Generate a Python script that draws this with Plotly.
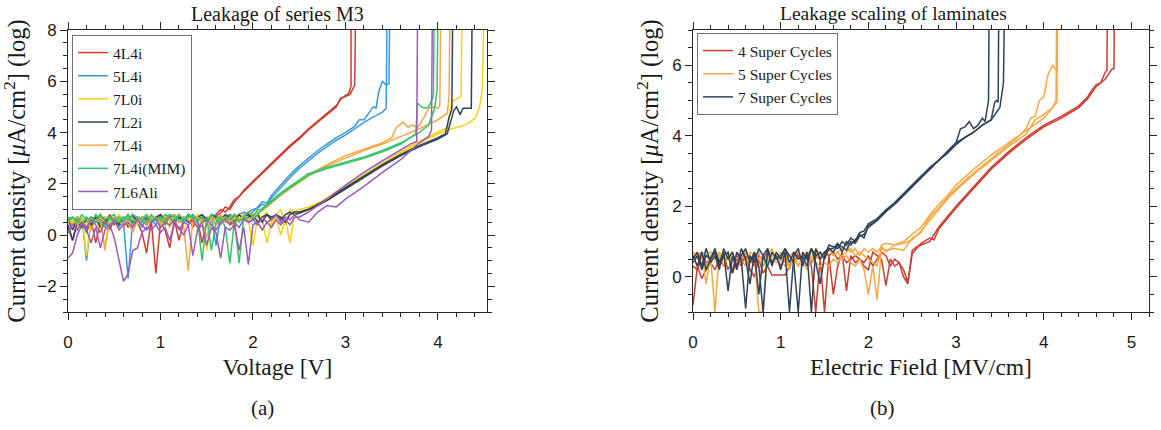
import plotly.graph_objects as go

# ---------------- data: panel (a) Voltage sweep ----------------
V_LOW = [0.0, 0.05, 0.1, 0.15, 0.2, 0.25, 0.3, 0.35, 0.4, 0.45, 0.5, 0.55, 0.6, 0.65, 0.7, 0.75,
         0.8, 0.85, 0.9, 0.95, 1.0, 1.05, 1.1, 1.15, 1.2, 1.25, 1.3, 1.35, 1.4, 1.45, 1.5, 1.55,
         1.6, 1.65, 1.7, 1.75, 1.8, 1.85, 1.9, 1.95, 2.0, 2.05, 2.1, 2.15, 2.2, 2.25, 2.3, 2.35,
         2.4, 2.45]

# 4L4i
A4L4i_noise_1 = [0.3, -0.2, 0.5, 0.6, 0.1, 0.6, -0.3, 0.5, 0.7, 0.2, 0.6, 0.4, 0.7, 0.3, 0.6, 0.5,
                 0.1, -0.7, 0.6, -1.5, 0.5, 0.2, -0.5, 0.6, -0.2, 0.5, 0.7, 0.3, 0.6, -0.3, 0.5, 0.7]
A4L4i_noise_2 = [0.6, 0.4, 0.7, 0.5, 0.7, 0.3, 0.6, 0.7, 0.5, 0.8, 0.4, 0.7, 0.6, 0.8, 0.5, 0.7,
                 0.6, 0.4, 0.7, 0.6, 0.8, 0.5, 0.7, 0.6, 0.7, 0.5, 0.8, 0.6, 0.7, 0.5, 0.7, 0.6]
A4L4i_tail_x_1 = [1.6, 1.65, 1.7, 1.75, 1.8, 1.85, 1.9, 2.0, 2.1, 2.2, 2.3, 2.4, 2.5, 2.6, 2.7, 2.8, 2.9, 2.95, 3.0, 3.03, 3.06, 3.06]
A4L4i_tail_y_1 = [0.8, 1.0, 0.9, 1.1, 1.4, 1.5, 1.75, 2.1, 2.45, 2.8, 3.15, 3.5, 3.8, 4.15, 4.45, 4.75, 5.05, 5.3, 5.45, 5.5, 5.8, 9]
A4L4i_tail_x_2 = [1.6, 1.65, 1.7, 1.75, 1.8, 1.85, 1.9, 2.0, 2.1, 2.2, 2.3, 2.4, 2.5, 2.6, 2.7, 2.8, 2.9, 2.95, 3.0, 3.05, 3.1, 3.11]
A4L4i_tail_y_2 = [0.75, 0.85, 1.1, 1.0, 1.3, 1.5, 1.7, 2.05, 2.4, 2.75, 3.1, 3.45, 3.75, 4.1, 4.4, 4.7, 5.0, 5.35, 5.4, 5.5, 5.85, 9]

# 5L4i
A5L4i_noise_1 = [0.7, 0.6, 0.5, 0.7, -1.0, 0.6, 0.7, 0.5, 0.3, 0.7, 0.6, 0.7, 0.5, -1.7, 0.6, 0.7,
                 0.5, 0.7, 0.6, 0.4, 0.7, 0.6, 0.8, 0.6, 0.7, 0.5, 0.7, 0.6, 0.7, 0.8, 0.6, 0.7,
                 -0.4, 0.7, 0.6, 0.8, 0.7, 0.6, 0.8, 0.9]
A5L4i_noise_2 = [0.6, 0.7, 0.4, 0.6, 0.2, 0.7, 0.5, 0.7, 0.6, 0.4, 0.7, 0.3, 0.6, 0.5, 0.7, 0.6,
                 0.3, 0.7, 0.5, 0.7, 0.6, 0.4, 0.7, 0.6, 0.5, 0.7, 0.6, 0.8, 0.5, 0.7, 0.6, 0.7,
                 0.8, 0.6, 0.7, 0.8, 0.7, 0.8, 0.9, 0.8]
A5L4i_tail_x_1 = [2.0, 2.05, 2.1, 2.15, 2.2, 2.3, 2.4, 2.5, 2.6, 2.7, 2.8, 2.9, 3.0, 3.1, 3.2, 3.3, 3.4, 3.44, 3.45]
A5L4i_tail_y_1 = [1.0, 1.05, 1.2, 1.15, 1.45, 1.85, 2.25, 2.6, 2.9, 3.2, 3.45, 3.7, 3.9, 4.15, 4.4, 4.6, 4.8, 4.95, 9]
A5L4i_tail_x_2 = [2.0, 2.05, 2.1, 2.15, 2.2, 2.3, 2.4, 2.5, 2.6, 2.7, 2.8, 2.9, 3.0, 3.1, 3.15, 3.2, 3.25, 3.3, 3.33, 3.36, 3.4, 3.44, 3.47, 3.48]
A5L4i_tail_y_2 = [0.9, 1.1, 1.3, 1.25, 1.55, 1.95, 2.35, 2.7, 3.0, 3.3, 3.55, 3.8, 4.0, 4.25, 4.5, 4.5, 4.75, 5.0, 4.95, 5.6, 6.0, 5.85, 5.9, 9]

# 7L0i
A7L0i_noise_1 = [0.5, 0.6, 0.3, 0.7, -0.8, 0.6, 0.5, 0.7, -0.5, 0.6, 0.7, 0.4, 0.7, 0.6, 0.3, 0.7,
                 0.6, 0.5, 0.7, 0.6, 0.4, 0.7, 0.6, 0.7, 0.5, 0.7, 0.6, 0.7, 0.3, 0.6, -0.6, 0.7,
                 0.6, 0.7, 0.5, 0.7, 0.6, 0.8, 0.7, 0.6, -0.4, 0.7, 0.6, -0.3, 0.5, 0.7, 0.0, 0.6,
                 -0.3, 0.8]
A7L0i_noise_2 = [0.7, 0.5, 0.7, 0.6, 0.5, 0.7, 0.6, 0.2, 0.7, 0.6, 0.5, 0.8, 0.6, 0.7, 0.6, 0.4,
                 0.7, 0.8, 0.6, 0.7, 0.6, 0.8, 0.5, 0.7, 0.8, 0.6, 0.7, 0.5, 0.8, 0.7, 0.6, 0.8,
                 0.7, 0.6, 0.8, 0.7, 0.2, 0.8, 0.7, 0.8, 0.6, 0.8, 0.7, 0.9, 0.3, 0.8, 1.0, 0.4,
                 1.0, 0.9]
A7L0i_tail_x_1 = [2.5, 2.6, 2.7, 2.8, 2.9, 3.0, 3.2, 3.4, 3.6, 3.8, 4.0, 4.1, 4.15, 4.2, 4.25, 4.26]
A7L0i_tail_y_1 = [0.9, 1.05, 1.2, 1.45, 1.7, 1.9, 2.35, 2.8, 3.25, 3.65, 4.0, 4.2, 5.2, 5.3, 5.4, 9]
A7L0i_tail_x_2 = [2.5, 2.6, 2.7, 2.8, 2.9, 3.0, 3.2, 3.4, 3.6, 3.8, 4.0, 4.1, 4.2, 4.3, 4.4, 4.45, 4.48, 4.5]
A7L0i_tail_y_2 = [1.0, 1.1, 1.25, 1.4, 1.6, 1.85, 2.3, 2.75, 3.2, 3.6, 3.95, 4.1, 4.2, 4.3, 4.55, 5.0, 5.7, 9]

# 7L2i
A7L2i_noise_1 = [0.6, 0.2, 0.7, 0.5, 0.3, 0.7, 0.6, 0.8, 0.5, 0.7, 0.6, 0.4, 0.7, 0.6, 0.8, 0.5,
                 0.7, 0.6, 0.5, 0.7, 0.8, 0.6, 0.7, 0.5, 0.7, 0.6, 0.8, 0.7, 0.6, 0.7, 0.5, 0.8,
                 0.7, 0.6, 0.7, 0.4, 0.8, 0.6, 0.7, 0.8, 0.6, 0.8, 0.5, 0.8, 0.7, 0.8, 0.6, 0.8,
                 0.9, 0.8]
A7L2i_noise_2 = [0.4, -0.2, 0.5, 0.3, 0.6, 0.4, 0.7, 0.3, 0.6, 0.7, 0.5, 0.6, 0.3, 0.7, 0.5, 0.6,
                 0.7, 0.4, 0.6, 0.7, 0.5, 0.6, 0.7, 0.8, 0.6, 0.7, 0.5, 0.6, 0.7, 0.8, 0.6, 0.7,
                 0.4, 0.6, 0.8, 0.7, 0.5, 0.8, 0.6, 0.7, 0.8, 0.5, 0.7, 0.8, 0.6, 0.8, 0.7, 0.5,
                 0.8, 0.9]
A7L2i_tail_x_1 = [2.5, 2.6, 2.7, 2.8, 3.0, 3.2, 3.4, 3.6, 3.8, 4.0, 4.08, 4.12, 4.15, 4.16]
A7L2i_tail_y_1 = [0.85, 1.0, 1.2, 1.4, 1.85, 2.3, 2.75, 3.15, 3.5, 3.8, 3.95, 4.6, 4.9, 9]
A7L2i_tail_x_2 = [2.5, 2.6, 2.7, 2.8, 3.0, 3.2, 3.4, 3.6, 3.8, 4.0, 4.1, 4.17, 4.2, 4.24, 4.27, 4.32, 4.36, 4.37]
A7L2i_tail_y_2 = [0.9, 1.0, 1.15, 1.35, 1.8, 2.25, 2.7, 3.1, 3.45, 3.75, 3.95, 4.85, 5.0, 4.7, 4.95, 4.95, 4.95, 9]

# 7L4i
A7L4i_noise_1 = [0.5, 0.7, 0.4, 0.6, 0.3, 0.7, 0.5, 0.6, -0.6, 0.7, 0.5, 0.6, 0.3, 0.7, 0.6, 0.5,
                 0.7, 0.4, 0.6, 0.7, 0.5, 0.6, 0.3, 0.7, 0.6, 0.4, -1.4, 0.6, 0.7, 0.5, 0.6, 0.7,
                 0.4, 0.6, 0.7, 0.5, 0.7, 0.6, 0.8, 0.6, 0.7, 0.8]
A7L4i_noise_2 = [0.6, 0.4, 0.7, 0.5, 0.7, 0.2, 0.6, 0.7, 0.5, 0.3, 0.7, 0.6, 0.7, 0.5, 0.1, 0.6,
                 0.7, 0.5, 0.7, 0.6, 0.4, 0.7, 0.6, 0.8, 0.5, 0.7, 0.6, 0.4, 0.7, 0.6, -0.1, 0.7,
                 0.6, 0.8, 0.5, 0.7, 0.8, 0.6, 0.7, 0.9, 0.8, 0.9]
A7L4i_tail_x_1 = [2.1, 2.2, 2.3, 2.4, 2.5, 2.6, 2.8, 3.0, 3.2, 3.4, 3.5, 3.55, 3.62, 3.68, 3.72, 3.78, 3.85, 3.9, 3.95, 4.0, 4.02, 4.03]
A7L4i_tail_y_1 = [1.0, 1.3, 1.6, 1.85, 2.1, 2.35, 2.75, 3.1, 3.35, 3.6, 3.8, 4.2, 4.4, 4.2, 4.3, 4.2, 4.6, 4.95, 5.0, 4.95, 5.05, 9]
A7L4i_tail_x_2 = [2.1, 2.2, 2.3, 2.4, 2.5, 2.6, 2.8, 3.0, 3.2, 3.4, 3.6, 3.8, 4.0, 4.1, 4.12, 4.13]
A7L4i_tail_y_2 = [0.95, 1.25, 1.55, 1.8, 2.05, 2.3, 2.7, 3.0, 3.3, 3.55, 3.85, 4.15, 4.5, 4.75, 5.4, 9]

# 7L4i(MIM)
AMIM_noise_1 = [0.6, 0.7, 0.5, 0.8, 0.6, 0.7, 0.5, 0.8, 0.6, 0.7, 0.8, 0.5, 0.7, 0.6, 0.8, 0.7,
                0.6, 0.8, 0.5, 0.7, 0.6, 0.8, 0.7, 0.5, 0.8, 0.6, 0.7, 0.8, 0.6, -1.0, 0.7, -0.6,
                0.5, 0.7, 0.3, -1.1, 0.6, -1.1, 0.7, 0.5, 0.6, 0.8]
AMIM_noise_2 = [0.5, 0.7, 0.6, 0.4, 0.7, 0.5, 0.8, 0.6, 0.3, 0.7, 0.5, 0.7, 0.6, 0.8, 0.4, 0.7,
                0.6, 0.5, 0.8, 0.6, 0.7, 0.4, 0.8, 0.7, 0.6, 0.5, 0.8, 0.7, 0.6, 0.7, 0.5, 0.8,
                0.6, 0.4, 0.7, 0.6, 0.8, 0.5, 0.7, 0.9, 0.7, 1.0]
AMIM_tail_x_1 = [2.1, 2.2, 2.3, 2.4, 2.5, 2.6, 2.8, 3.0, 3.2, 3.4, 3.6, 3.7, 3.76, 3.78, 3.82, 3.86, 3.9, 3.95, 3.96]
AMIM_tail_y_1 = [1.05, 1.35, 1.65, 1.9, 2.15, 2.4, 2.65, 2.85, 3.05, 3.3, 3.6, 3.8, 3.95, 5.15, 5.0, 4.95, 5.0, 5.4, 9]
AMIM_tail_x_2 = [2.1, 2.2, 2.3, 2.4, 2.5, 2.6, 2.8, 3.0, 3.2, 3.4, 3.6, 3.7, 3.8, 3.9, 3.96, 3.99, 4.0]
AMIM_tail_y_2 = [1.0, 1.3, 1.6, 1.85, 2.1, 2.35, 2.6, 2.8, 3.0, 3.25, 3.55, 3.8, 4.0, 4.3, 4.9, 5.6, 9]

# 7L6Ali
A7L6_noise_1 = [-0.9, -0.7, 0.0, 0.4, 0.2, -0.3, 0.3, -0.5, 0.2, 0.4, -0.1, -1.0, -1.8, -1.5, -0.6, -0.5,
                0.1, 0.3, 0.2, 0.4, 0.1, 0.3, -0.2, 0.4, 0.3, 0.0, 0.4, -0.8, 0.2, 0.4, -0.4, 0.3,
                0.1, -0.9, 0.3, 0.2, 0.4, -0.6, 0.3, -1.15, 0.4, 0.5, 0.2, 0.5, 0.3, 0.6, 0.4, 0.6,
                0.4, 0.7]
A7L6_noise_2 = [0.1, 0.4, 0.2, 0.5, 0.3, 0.6, 0.4, 0.1, 0.5, 0.3, 0.6, 0.2, 0.4, 0.5, 0.3, 0.6,
                0.4, 0.2, 0.5, 0.6, 0.3, 0.5, 0.4, 0.6, 0.2, 0.5, 0.4, 0.6, 0.3, 0.5, 0.6, 0.4,
                0.2, 0.5, 0.6, 0.4, 0.5, 0.3, 0.6, 0.5, 0.6, 0.4, 0.7, 0.5, 0.6, 0.8, 0.5, 0.7,
                0.6, 0.8]
A7L6_tail_x_1 = [2.5, 2.6, 2.7, 2.8, 3.0, 3.2, 3.4, 3.6, 3.7, 3.77, 3.78]
A7L6_tail_y_1 = [0.7, 0.9, 1.15, 1.4, 1.95, 2.45, 2.9, 3.35, 3.55, 3.65, 9]
A7L6_tail_x_2 = [2.5, 2.6, 2.7, 2.8, 2.9, 3.0, 3.2, 3.4, 3.6, 3.8, 3.9, 3.93, 3.94]
A7L6_tail_y_2 = [0.6, 0.5, 0.9, 1.15, 1.1, 1.4, 1.9, 2.45, 2.95, 3.6, 3.85, 4.1, 9]

# ---------------- data: panel (b) Electric field ----------------
E_LOW = [0.0, 0.05, 0.1, 0.15, 0.2, 0.25, 0.3, 0.35, 0.4, 0.45, 0.5, 0.55, 0.6, 0.65, 0.7, 0.75,
         0.8, 0.85, 0.9, 0.95, 1.0, 1.05, 1.1, 1.15, 1.2, 1.25, 1.3, 1.35, 1.4, 1.45, 1.5, 1.55,
         1.6, 1.65, 1.7, 1.75, 1.8, 1.85, 1.9, 1.95, 2.0, 2.05, 2.1, 2.15, 2.2, 2.25, 2.3, 2.35,
         2.4, 2.45]

SC7_noise_1 = [0.6, 0.3, 0.7, 0.2, 0.5, 0.8, 0.4, 0.7, -0.4, 0.6, 0.2, 0.8, 0.5, -0.2, 0.7, 0.3,
               -1.0, 0.8, 0.4, 0.6, 0.2, 0.7, -1.0, 0.6, 0.8, 0.3, 0.7, -1.0, 0.8, 0.5, 0.7, 0.8]
SC7_noise_2 = [0.5, 0.7, 0.3, 0.8, 0.4, 0.6, 0.2, 0.8, 0.5, 0.7, 0.3, 0.6, 0.8, 0.4, 0.7, -0.5,
               0.6, 0.8, 0.3, 0.7, 0.5, 0.8, 0.6, 0.4, -1.0, 0.7, 0.5, 0.8, 0.4, -0.2, 0.6, 0.9]
SC7_noise_3 = [0.4, 0.6, 0.2, 0.6, 0.5, 0.7, 0.3, 0.6, 0.7, 0.1, 0.7, 0.5, -0.9, 0.6, 0.4, 0.8,
               0.6, 0.3, 0.7, 0.5, 0.6, 0.8, 0.4, 0.7, 0.5, 0.6, 0.3, 0.8, 0.6, 0.7, 0.5, 0.8]
SC7_tail_x_1 = [1.6, 1.65, 1.7, 1.75, 1.8, 1.85, 1.9, 1.95, 2.0, 2.1, 2.2, 2.3, 2.4, 2.5, 2.6, 2.7, 2.8, 2.9, 3.0, 3.05, 3.1, 3.15, 3.2, 3.25, 3.3, 3.33, 3.37, 3.38]
SC7_tail_y_1 = [0.8, 0.95, 0.7, 1.0, 0.9, 1.05, 1.2, 1.1, 1.45, 1.6, 1.85, 2.1, 2.35, 2.6, 2.85, 3.1, 3.3, 3.55, 3.8, 4.2, 4.25, 4.4, 4.2, 4.3, 4.5, 4.4, 5.0, 9]
SC7_tail_x_2 = [1.6, 1.65, 1.7, 1.75, 1.8, 1.85, 1.9, 1.95, 2.0, 2.1, 2.2, 2.3, 2.4, 2.5, 2.6, 2.7, 2.8, 2.9, 3.0, 3.1, 3.2, 3.3, 3.4, 3.44, 3.46, 3.48, 3.49]
SC7_tail_y_2 = [0.85, 0.8, 1.0, 0.9, 1.1, 1.0, 1.25, 1.3, 1.5, 1.65, 1.9, 2.1, 2.35, 2.6, 2.85, 3.05, 3.3, 3.55, 3.8, 3.95, 4.1, 4.3, 4.45, 4.95, 5.0, 4.95, 9]
SC7_tail_x_3 = [1.6, 1.65, 1.7, 1.75, 1.8, 1.85, 1.9, 1.95, 2.0, 2.1, 2.2, 2.3, 2.4, 2.5, 2.6, 2.7, 2.8, 2.9, 3.0, 3.1, 3.2, 3.3, 3.4, 3.5, 3.54, 3.56]
SC7_tail_y_3 = [0.7, 0.9, 0.85, 0.75, 1.0, 0.95, 1.15, 1.2, 1.4, 1.6, 1.85, 2.05, 2.3, 2.55, 2.8, 3.05, 3.3, 3.5, 3.75, 3.95, 4.1, 4.3, 4.45, 4.8, 5.5, 9]

SC5_noise_1 = [0.7, 0.5, 0.7, 0.3, 0.6, -1.0, 0.7, 0.5, 0.6, 0.2, 0.7, 0.5, 0.3, 0.7, 0.6, -1.0,
               -1.0, 0.7, 0.4, 0.6, 0.5, 0.7, 0.2, 0.6, 0.7, 0.5, 0.6, 0.8, 0.5, 0.7, 0.6, 0.8,
               0.6, 0.7, 0.5, 0.6, 0.4, 0.3, 0.5, 0.2, -0.5, 0.3, -0.65]
SC5_noise_2 = [0.7, 0.6, 0.7, 0.6, 0.7, 0.6, 0.5, 0.7, 0.6, 0.5, 0.4, 0.6, 0.5, 0.4, 0.6, 0.5,
               0.3, 0.5, 0.6, 0.4, 0.5, 0.3, 0.4, 0.5, 0.3, 0.4, 0.2, 0.5, 0.4, 0.3, 0.4, 0.3,
               0.5, 0.4, 0.6, 0.7, 0.8, 0.6, 0.7, 0.6, 0.5, 0.4, 0.3]
SC5_noise_3 = [0.6, 0.3, 0.7, -0.2, 0.6, 0.5, 0.7, 0.3, 0.6, 0.7, 0.2, 0.6, 0.7, 0.5, 0.6, 0.7,
               0.3, 0.6, 0.8, 0.5, 0.7, 0.4, 0.6, 0.7, 0.3, 0.6, 0.7, 0.5, 0.8, 0.6, 0.7, 0.8,
               0.6, 0.7, 0.8, 0.9, 0.7, 0.8, 0.6, 0.8, 0.7, 0.8, 0.7]
SC5_tail_x_1 = [2.15, 2.2, 2.3, 2.4, 2.5, 2.6, 2.7, 2.8, 2.9, 3.0, 3.2, 3.4, 3.6, 3.7, 3.8, 3.85, 3.9, 3.95, 4.0, 4.05, 4.1, 4.15, 4.16]
SC5_tail_y_1 = [0.8, 0.75, 0.8, 0.75, 1.1, 1.25, 1.7, 1.95, 2.25, 2.5, 2.95, 3.35, 3.75, 3.95, 4.2, 4.5, 4.55, 5.0, 5.1, 5.75, 6.0, 5.85, 9]
SC5_tail_x_2 = [2.15, 2.2, 2.3, 2.4, 2.5, 2.6, 2.7, 2.8, 2.9, 3.0, 3.2, 3.4, 3.6, 3.8, 3.9, 4.0, 4.1, 4.14, 4.15]
SC5_tail_y_2 = [0.9, 0.95, 0.9, 1.0, 1.2, 1.4, 1.75, 2.05, 2.3, 2.6, 3.05, 3.45, 3.8, 4.15, 4.35, 4.5, 4.8, 5.0, 9]
SC5_tail_x_3 = [2.15, 2.2, 2.3, 2.4, 2.5, 2.6, 2.7, 2.8, 2.9, 3.0, 3.2, 3.4, 3.6, 3.8, 3.9, 4.0, 4.1, 4.15, 4.16]
SC5_tail_y_3 = [0.85, 0.7, 0.9, 0.95, 1.05, 1.3, 1.6, 1.9, 2.2, 2.45, 2.9, 3.3, 3.7, 4.05, 4.45, 4.6, 4.8, 4.95, 9]

SC4_noise_1 = [-0.8, 0.3, -0.05, 0.2, 0.4, 0.2, 0.5, 0.3, 0.6, 0.1, 0.5, 0.3, 0.6, 0.2, 0.0, 0.5,
               0.1, 0.3, 0.05, 0.05, 0.05, 0.05, 0.3, 0.5, 0.6, 0.4, 0.6, 0.3, -1.0, 0.5, -1.0, 0.6,
               -0.5, 0.3, 0.7, -0.4, 0.6, 0.4, 0.5, 0.3, 0.2, 0.7, 0.6, 0.5, -0.25, 0.5, 0.3, 0.4,
               0.0, -0.2]
SC4_noise_2 = [0.3, 0.2, 0.6, 0.4, 0.5, 0.7, 0.3, 0.6, 0.2, 0.5, 0.6, 0.4, 0.7, 0.5, 0.3, 0.6,
               0.5, 0.7, 0.4, 0.6, 0.3, 0.5, 0.6, 0.4, 0.7, 0.5, 0.6, 0.4, 0.6, 0.5, 0.7, 0.6,
               0.7, 0.5, 0.6, 0.4, 0.5, 0.6, 0.5, 0.4, 0.6, 0.3, 0.5, 0.7, 0.6, 0.3, 0.5, 0.4,
               0.2, -0.15]
SC4_tail_x_1 = [2.5, 2.55, 2.6, 2.7, 2.75, 2.8, 2.9, 3.0, 3.2, 3.4, 3.6, 3.8, 4.0, 4.2, 4.4, 4.5, 4.55, 4.6, 4.65, 4.7, 4.72, 4.73]
SC4_tail_y_1 = [0.75, 0.85, 0.9, 1.0, 1.2, 1.4, 1.7, 2.0, 2.55, 3.1, 3.55, 3.95, 4.3, 4.55, 4.85, 5.1, 5.3, 5.45, 5.5, 5.8, 5.85, 9]
SC4_tail_x_2 = [2.5, 2.55, 2.6, 2.7, 2.75, 2.8, 2.9, 3.0, 3.2, 3.4, 3.6, 3.8, 4.0, 4.2, 4.4, 4.5, 4.6, 4.7, 4.78, 4.8, 4.81]
SC4_tail_y_2 = [0.65, 0.8, 0.95, 1.1, 1.05, 1.35, 1.65, 1.95, 2.5, 3.05, 3.5, 3.9, 4.25, 4.5, 4.8, 5.05, 5.4, 5.6, 5.9, 5.9, 9]

# ---------------- series definitions ----------------
LEFT_SERIES = [
    ("4L4i", "#cc3d2f", [(A4L4i_noise_1, A4L4i_tail_x_1, A4L4i_tail_y_1), (A4L4i_noise_2, A4L4i_tail_x_2, A4L4i_tail_y_2)]),
    ("5L4i", "#3a98db", [(A5L4i_noise_1, A5L4i_tail_x_1, A5L4i_tail_y_1), (A5L4i_noise_2, A5L4i_tail_x_2, A5L4i_tail_y_2)]),
    ("7L0i", "#f7d215", [(A7L0i_noise_1, A7L0i_tail_x_1, A7L0i_tail_y_1), (A7L0i_noise_2, A7L0i_tail_x_2, A7L0i_tail_y_2)]),
    ("7L2i", "#2f4358", [(A7L2i_noise_1, A7L2i_tail_x_1, A7L2i_tail_y_1), (A7L2i_noise_2, A7L2i_tail_x_2, A7L2i_tail_y_2)]),
    ("7L4i", "#f5a944", [(A7L4i_noise_1, A7L4i_tail_x_1, A7L4i_tail_y_1), (A7L4i_noise_2, A7L4i_tail_x_2, A7L4i_tail_y_2)]),
    ("7L4i(MIM)", "#34c46c", [(AMIM_noise_1, AMIM_tail_x_1, AMIM_tail_y_1), (AMIM_noise_2, AMIM_tail_x_2, AMIM_tail_y_2)]),
    ("7L6Ali", "#9b5bb8", [(A7L6_noise_1, A7L6_tail_x_1, A7L6_tail_y_1), (A7L6_noise_2, A7L6_tail_x_2, A7L6_tail_y_2)]),
]
RIGHT_SERIES = [
    ("4 Super Cycles", "#cc3d2f", [(SC4_noise_1, SC4_tail_x_1, SC4_tail_y_1), (SC4_noise_2, SC4_tail_x_2, SC4_tail_y_2)]),
    ("5 Super Cycles", "#f5a944", [(SC5_noise_1, SC5_tail_x_1, SC5_tail_y_1), (SC5_noise_2, SC5_tail_x_2, SC5_tail_y_2), (SC5_noise_3, SC5_tail_x_3, SC5_tail_y_3)]),
    ("7 Super Cycles", "#2f4358", [(SC7_noise_1, SC7_tail_x_1, SC7_tail_y_1), (SC7_noise_2, SC7_tail_x_2, SC7_tail_y_2), (SC7_noise_3, SC7_tail_x_3, SC7_tail_y_3)]),
]

LEFT_XTICKS = [0, 1, 2, 3, 4]
LEFT_YTICKS = [-2, 0, 2, 4, 6, 8]
RIGHT_XTICKS = [0, 1, 2, 3, 4, 5]
RIGHT_YTICKS = [0, 2, 4, 6]

SERIF = "Liberation Serif, Times New Roman, serif"
SANS = "Liberation Sans, Arial, sans-serif"
AX_COLOR = "#262626"
TXT = "#1a1a1a"

fig = go.Figure()

def add_series(series, low_x, xa, ya, legend):
    for name, color, curves in series:
        for i, (noise, tx, ty) in enumerate(curves):
            x = low_x[:len(noise)] + tx
            y = noise + ty
            fig.add_trace(go.Scatter(
                x=x, y=y, mode="lines", name=name, legendgroup=legend + name,
                showlegend=(i == 0), legend=legend,
                line=dict(color=color, width=1.5),
                xaxis=xa, yaxis=ya,
            ))

add_series(LEFT_SERIES, V_LOW, "x", "y", "legend")
add_series(RIGHT_SERIES, E_LOW, "x2", "y2", "legend2")

# invisible traces so that the mirror (top / right) tick axes get drawn
fig.add_trace(go.Scatter(x=[None], y=[None], mode="lines", showlegend=False,
                         hoverinfo="skip", xaxis="x3", yaxis="y3"))
fig.add_trace(go.Scatter(x=[None], y=[None], mode="lines", showlegend=False,
                         hoverinfo="skip", xaxis="x4", yaxis="y4"))

W, H = 1161, 430
Y_DOM = [(H - 312) / H, (H - 30) / H]
X1_DOM = [68 / W, 487 / W]
X2_DOM = [693 / W, 1149 / W]
X1_RANGE = [0, 4.53]
X2_RANGE = [0, 5.2]
Y1_RANGE = [-3, 8]
Y2_RANGE = [-1, 7]

def ax(domain, rng, tickvals, minor_dtick, anchor, labels=True, side=None, overlaying=None):
    d = dict(
        domain=domain, range=rng, anchor=anchor, automargin=False,
        showline=labels, linecolor=AX_COLOR, linewidth=1,
        mirror="ticks" if labels else False,
        ticks="outside", ticklen=7, tickwidth=1, tickcolor=AX_COLOR,
        tickvals=tickvals, showticklabels=labels,
        showgrid=False, zeroline=False, fixedrange=True,
        tickfont=dict(family=SANS, size=17, color=TXT),
        minor=dict(ticks="outside", ticklen=4, tickwidth=1, tickcolor=AX_COLOR,
                   showgrid=False, dtick=minor_dtick, tick0=0),
    )
    if side:
        d["side"] = side
    if overlaying:
        d["overlaying"] = overlaying
    return d

YTITLE = "Current density [<i>μ</i>A/cm<sup>2</sup>] (log)"
LBL_FONT = dict(family=SERIF, size=23.5, color=TXT)
YLBL_FONT = dict(family=SERIF, size=24.5, color=TXT)

xa1 = ax(X1_DOM, X1_RANGE, LEFT_XTICKS, 0.2, "y")
xa1["title"] = dict(text="Voltage [V]", font=LBL_FONT, standoff=7)
xa1["ticklabelstandoff"] = 8
ya1 = ax(Y_DOM, Y1_RANGE, LEFT_YTICKS, 0.5, "x")
ya1["title"] = dict(text=YTITLE, font=YLBL_FONT, standoff=6)
xa2 = ax(X2_DOM, X2_RANGE, RIGHT_XTICKS, 0.2, "y2")
xa2["title"] = dict(text="Electric Field [MV/cm]", font=LBL_FONT, standoff=7)
xa2["ticklabelstandoff"] = 8
ya2 = ax(Y_DOM, Y2_RANGE, RIGHT_YTICKS, 0.5, "x2")
ya2["title"] = dict(text=YTITLE, font=YLBL_FONT, standoff=6)

xa3 = ax(X1_DOM, X1_RANGE, LEFT_XTICKS, 0.2, "y", labels=False, side="top", overlaying="x")
ya3 = ax(Y_DOM, Y1_RANGE, LEFT_YTICKS, 0.5, "x", labels=False, side="right", overlaying="y")
xa4 = ax(X2_DOM, X2_RANGE, RIGHT_XTICKS, 0.2, "y2", labels=False, side="top", overlaying="x2")
ya4 = ax(Y_DOM, Y2_RANGE, RIGHT_YTICKS, 0.5, "x2", labels=False, side="right", overlaying="y2")

legend_style = dict(
    font=dict(family=SERIF, size=15.5, color=TXT),
    bgcolor="white", bordercolor="#707070", borderwidth=1,
    xanchor="left", yanchor="top", itemwidth=30, tracegroupgap=0,
)

fig.update_layout(
    width=W, height=H,
    margin=dict(l=0, r=0, t=0, b=0),
    paper_bgcolor="white", plot_bgcolor="white",
    xaxis=xa1, yaxis=ya1, xaxis2=xa2, yaxis2=ya2,
    xaxis3=xa3, yaxis3=ya3, xaxis4=xa4, yaxis4=ya4,
    legend=dict(x=72 / W, y=(H - 35) / H, **legend_style),
    legend2=dict(x=697 / W, y=(H - 33) / H, **legend_style),
    annotations=[
        dict(text="Leakage of series M3", x=277 / W, y=(H - 1) / H, xref="paper", yref="paper",
             xanchor="center", yanchor="top", showarrow=False,
             font=dict(family=SERIF, size=20, color=TXT)),
        dict(text="Leakage scaling of laminates", x=893 / W, y=(H - 1) / H, xref="paper", yref="paper",
             xanchor="center", yanchor="top", showarrow=False,
             font=dict(family=SERIF, size=19.5, color=TXT)),
        dict(text="(a)", x=262 / W, y=(H - 408) / H, xref="paper", yref="paper",
             xanchor="center", yanchor="middle", showarrow=False,
             font=dict(family=SERIF, size=21, color=TXT)),
        dict(text="(b)", x=882 / W, y=(H - 408) / H, xref="paper", yref="paper",
             xanchor="center", yanchor="middle", showarrow=False,
             font=dict(family=SERIF, size=21, color=TXT)),
    ],
)

fig.write_html("out.html", config={"displayModeBar": False},
               post_script="document.body.style.margin='0';")
